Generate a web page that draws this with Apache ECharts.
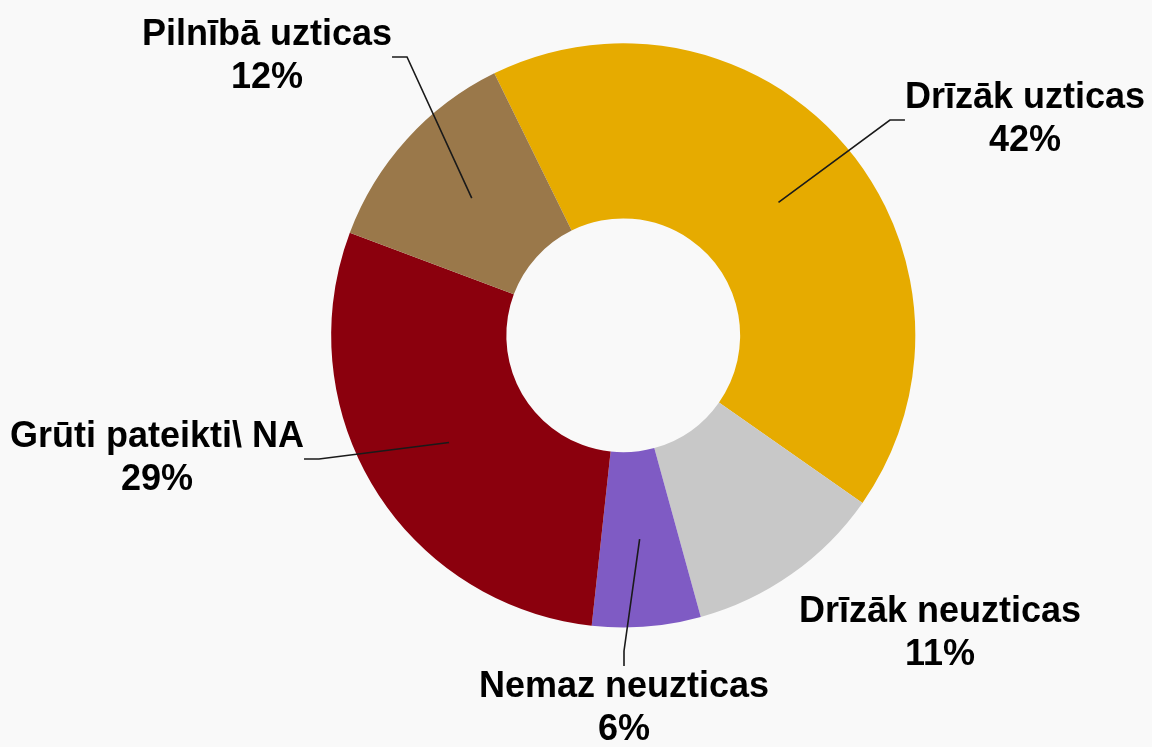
<!DOCTYPE html>
<html>
<head>
<meta charset="utf-8">
<script src="https://cdn.jsdelivr.net/npm/echarts@6/dist/echarts.min.js"></script>
<style>
  html, body { margin: 0; padding: 0; background: #f9f9f9; }
  #chart { width: 1152px; height: 747px; }
</style>
</head>
<body>
<div id="chart"></div>
<script>
// Dati (procenti)
const categories = ["Drīzāk uzticas", "Drīzāk neuzticas", "Nemaz neuzticas", "Grūti pateikti\\ NA", "Pilnībā uzticas"];
const values = [42, 11, 6, 29, 12];
const colors = ["#e6ab00", "#c8c8c8", "#7f5bc4", "#8b000d", "#9a784a"];

// etiķešu centri (px) un vai rādīt līniju
const labelCenters = [[1025, 120], [940, 634], [624, 709], [157, 459], [267, 57]];
const showLines = [true, false, true, true, true];

const chart = echarts.init(document.getElementById("chart"));

const option = {
    backgroundColor: "#f9f9f9",
    animation: false,
    series: [
        {
            // krāsainais gredzens
            type: "pie",
            z: 1,
            center: ["54.1%", "44.9%"],
            radius: ["31.3%", "78.2%"],
            startAngle: 116.2,
            silent: true,
            label: { show: false },
            labelLine: { show: false },
            itemStyle: { borderWidth: 0 },
            data: categories.map((name, i) => ({
                name: name,
                value: values[i],
                itemStyle: { color: colors[i] }
            }))
        },
        {
            // neredzams iekšējais aplis etiķetēm (līnijas sākas gredzena vidū)
            type: "pie",
            z: 5,
            center: ["54.1%", "44.9%"],
            radius: [0, "54.75%"],
            startAngle: 116.2,
            silent: true,
            itemStyle: { color: "rgba(0,0,0,0)", borderWidth: 0 },
            label: {
                show: true,
                position: "outside",
                formatter: "{b}\n{d}%",
                fontFamily: "Liberation Sans",
                fontWeight: "bold",
                fontSize: 36,
                lineHeight: 43,
                color: "#000",
                align: "center"
            },
            labelLine: {
                show: true,
                length: 20,
                length2: 15,
                lineStyle: { color: "#1a1a1a", width: 1.6 }
            },
            labelLayout: (params) => ({
                x: labelCenters[params.dataIndex][0],
                y: labelCenters[params.dataIndex][1],
                align: "center",
                verticalAlign: "middle"
            }),
            data: categories.map((name, i) => ({
                name: name,
                value: values[i],
                labelLine: { show: showLines[i] }
            }))
        }
    ]
};

chart.setOption(option);
</script>
</body>
</html>
